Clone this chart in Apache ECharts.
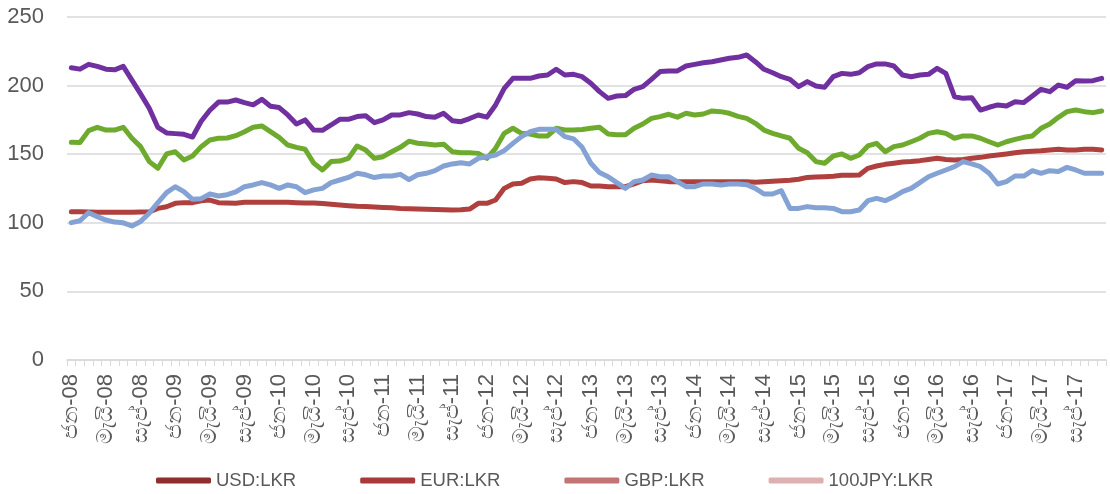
<!DOCTYPE html>
<html>
<head>
<meta charset="utf-8">
<title>LKR exchange rates</title>
<script src="https://cdn.jsdelivr.net/npm/echarts@6/dist/echarts.min.js"></script>
<style>
  html, body { margin: 0; padding: 0; background: #ffffff; }
  #chart { width: 1110px; height: 494px; }
</style>
</head>
<body>
<div id="chart"></div>
<script>
// Monthly rates, January 2008 to December 2017
const monthNames = ['ජන', 'පෙබ', 'මාර්', 'අප්‍රේ', 'මැයි', 'ජූනි', 'ජූලි', 'අගෝ', 'සැප්', 'ඔක්', 'නොවැ', 'දෙසැ'];
const years = ['08', '09', '10', '11', '12', '13', '14', '15', '16', '17'];
const categories = [];
years.forEach(y => monthNames.forEach(m => categories.push(m + '-' + y)));

const yTicks = [0, 50, 100, 150, 200, 250];

const usdLkr = [
  108.1, 108, 107.8, 107.7, 107.6, 107.6, 107.6, 107.6, 107.8, 108, 110.5, 111.7, 114.2, 114.7, 114.7, 116.1, 116.6, 114.7, 114.5, 114.3,
  115, 115, 115, 115, 115, 115, 114.7, 114.5, 114.5, 114, 113.5, 113, 112.5, 112, 111.8, 111.5, 111.2, 111, 110.5, 110.3,
  110, 109.8, 109.7, 109.5, 109.3, 109.5, 110, 114.2, 114.2, 116.6, 125.1, 128.3, 128.8, 131.9, 132.8, 132.4, 131.9, 129.3, 130, 129.3,
  126.8, 126.8, 126.3, 126.3, 126.3, 128.3, 130.7, 131.2, 130.7, 130, 130, 130, 130, 130, 130, 130, 130, 130, 130, 129.5,
  130, 130.3, 130.7, 131, 131.7, 133.1, 133.3, 133.6, 134, 134.6, 134.6, 134.8, 139.7, 141.4, 142.6, 143.4, 144.3, 144.6, 145.3, 146.2,
  147, 146.2, 145.8, 146.2, 147, 147.7, 148.7, 149.4, 150.2, 151.1, 151.8, 152.2, 152.5, 153, 153.6, 153, 153, 153.6, 153.6, 153
];
const eurLkr = [
  158.7, 158.5, 167.2, 169.6, 167.6, 167.6, 169.6, 161.6, 155.5, 144.6, 139.7, 150.2, 151.8, 145.8, 148.7, 155.5, 160.4, 161.6, 161.8, 163.5,
  166.4, 169.6, 170.6, 166.4, 162.3, 156.7, 155, 153.6, 143.5, 138.5, 144.6, 145, 147, 156, 153, 147, 148.2, 151.8, 155, 159.5,
  158, 157.5, 156.7, 157.3, 151.8, 151, 151, 150.6, 147, 154.3, 165.2, 168.9, 165.2, 164.7, 163.3, 163.3, 168.9, 167.6, 167.6, 168,
  168.9, 169.6, 164.7, 164.2, 164.2, 168.9, 172, 176.1, 177.4, 179.1, 177, 179.8, 178.6, 179.3, 181.5, 181, 179.8, 177.6, 176.1, 172.5,
  167.6, 165.2, 163.3, 161.6, 154.3, 151.1, 144.6, 143.4, 148.7, 150.2, 147, 149.4, 156, 157.9, 151.8, 155.5, 156.7, 159.1, 161.6, 165.2,
  166.4, 165.2, 161.6, 163.3, 163.3, 161.6, 159.1, 156.7, 159.1, 160.8, 162.3, 163.3, 168.9, 172, 176.9, 181, 182.2, 181, 180.3, 181.5
];
const gbpLkr = [
  213, 212, 215.5, 214, 212, 211.5, 214, 204, 194, 183.5, 169.5, 165.5, 165, 164.5, 162.5, 174, 182, 188, 188, 189.5,
  187.6, 186, 190, 185, 184, 178.6, 172, 175, 167.6, 167.4, 171.3, 175.4, 175.4, 177.4, 178, 173, 175, 178.6, 178.6, 180.3,
  179.3, 177.4, 177, 179.8, 174.4, 173.7, 176, 178.6, 177, 185.9, 198, 205.3, 205.3, 205.3, 207, 207.7, 211.9, 207.7, 208.2, 206.5,
  201.7, 195.6, 190.7, 192.4, 192.7, 197.3, 199.2, 204.6, 210.2, 210.7, 210.7, 214.3, 215.5, 216.7, 217.4, 218.7, 219.9, 220.6, 222.3, 217.4,
  211.9, 209.4, 206.5, 204.6, 199.2, 202.9, 199.7, 198.8, 206.5, 208.9, 208.2, 209.4, 213.8, 215.8, 215.8, 214.3, 207.7, 206.5, 207.7, 208.2,
  212.6, 208.9, 191.9, 190.7, 191.2, 182.2, 184.2, 185.9, 185.1, 188.3, 187.6, 192.4, 197.3, 195.6, 200.4, 198.8, 203.6, 203.3, 203.6, 205.3
];
const jpy100Lkr = [
  100.1, 101.5, 107.4, 104.5, 102, 100.5, 100, 97.7, 101, 107, 114.7, 122, 126.3, 122.7, 117.1, 117.6, 121, 119.5, 120.5, 122.5,
  126.3, 127.6, 129.3, 127.6, 125.1, 127.6, 126.3, 122, 124, 125.1, 129.3, 131.2, 133.1, 136.1, 135, 133, 134.1, 134.1, 135.3, 131.5,
  135, 136.1, 138, 141.4, 142.9, 143.8, 142.9, 147, 148.2, 149.4, 152.6, 157.9, 162.8, 166.4, 168.1, 168.1, 168.1, 162.8, 161.2, 155,
  143.4, 136.6, 133.6, 129.3, 125.1, 130, 131.2, 134.8, 133.6, 133.6, 130, 126.3, 126.3, 128.3, 128.3, 127.6, 128.3, 128.3, 127.8, 125.1,
  121, 121, 123.4, 110.5, 110.5, 111.8, 111, 111, 110.5, 108.1, 108.1, 109.3, 116.1, 117.8, 116.1, 119, 122.7, 125.1, 129.3, 133.6,
  136.1, 138.5, 140.9, 144.6, 142.9, 140.9, 136.1, 128.3, 130, 134.1, 134.1, 138, 136.1, 138, 137.4, 140.4, 138.5, 136.1, 136.1, 136.1
];

const seriesNames = ['USD:LKR', 'EUR:LKR', 'GBP:LKR', '100JPY:LKR'];
const seriesValues = [usdLkr, eurLkr, gbpLkr, jpy100Lkr];
const lineColors = ['#B0403D', '#6EAA2E', '#7030A0', '#84A2D4'];
const legendColors = ['#8E2F2E', '#A83B39', '#C27573', '#DDB1B0'];

const chart = echarts.init(document.getElementById('chart'), null, { renderer: 'canvas' });

const font = '"Liberation Sans", Arial, sans-serif';

chart.setOption({
  animation: false,
  backgroundColor: '#ffffff',
  grid: { left: 67, right: 4, top: 17, bottom: 134, containLabel: false },
  legend: {
    left: 151,
    top: 466,
    itemWidth: 55,
    itemHeight: 6,
    itemGap: 64,
    icon: 'roundRect',
    textStyle: { fontFamily: font, fontSize: 18.5, color: '#595959' },
    data: seriesNames.map((n, i) => ({ name: n, icon: 'roundRect', itemStyle: { color: legendColors[i] } }))
  },
  xAxis: {
    type: 'category',
    data: categories,
    boundaryGap: true,
    axisLine: { lineStyle: { color: '#d9d9d9', width: 1.5 } },
    axisTick: { show: true, interval: 0, length: 6, lineStyle: { color: '#d9d9d9', width: 1 } },
    axisLabel: {
      interval: 3,
      rotate: 90,
      margin: 14,
      fontFamily: font,
      fontSize: 22,
      color: '#595959'
    },
    splitLine: { show: false }
  },
  yAxis: {
    type: 'value',
    min: yTicks[0],
    max: yTicks[yTicks.length - 1],
    interval: 50,
    axisLine: { show: false },
    axisTick: { show: false },
    axisLabel: { margin: 23, fontFamily: font, fontSize: 22, color: '#595959' },
    splitLine: { lineStyle: { color: '#d9d9d9', width: 1.5 } }
  },
  series: seriesNames.map((n, i) => ({
    name: n,
    type: 'line',
    data: seriesValues[i],
    symbol: 'none',
    smooth: false,
    lineStyle: { color: lineColors[i], width: 5, cap: 'round', join: 'round' },
    itemStyle: { color: lineColors[i] }
  }))
});
</script>
</body>
</html>
